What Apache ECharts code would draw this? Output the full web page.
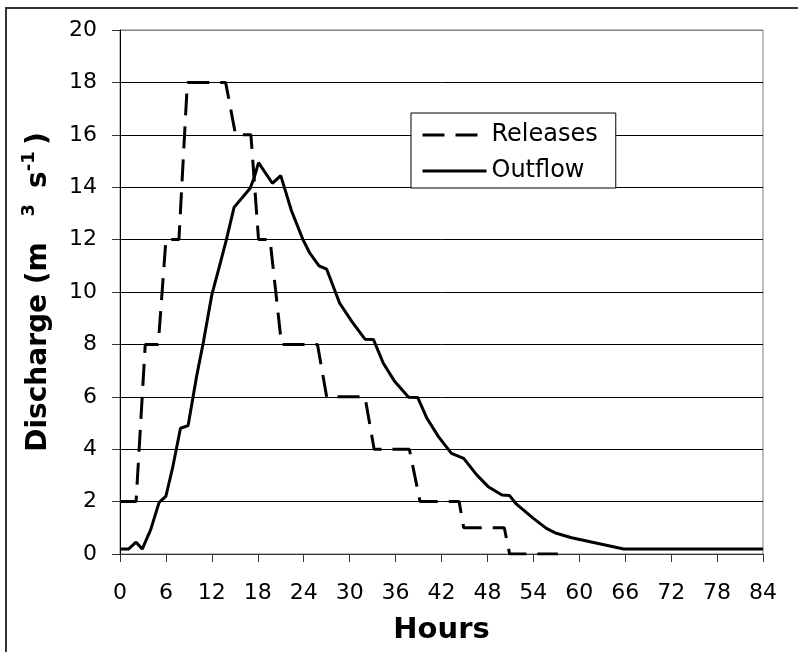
<!DOCTYPE html>
<html>
<head>
<meta charset="utf-8">
<script src="https://cdn.jsdelivr.net/npm/echarts@6/dist/echarts.min.js"></script>
<style>
  html, body { margin: 0; padding: 0; background: #fff; }
  #chart { width: 798px; height: 652px; }
</style>
</head>
<body>
<div id="chart"></div>
<script>
// hours / discharge pairs
const releases = [
  [0, 2], [2.1, 2], [3.3, 8], [5.0, 8], [6.0, 12], [7.7, 12], [8.8, 18],
  [13.8, 18], [15.1, 16], [17.1, 16], [18.1, 12], [19.6, 12], [21.1, 8],
  [25.8, 8], [27.0, 6], [32.0, 6], [33.2, 4], [37.8, 4], [39.2, 2],
  [44.3, 2], [44.9, 1], [50.2, 1], [50.9, 0], [57.2, 0]
]
const outflow = [
  [0, 0.19], [1.1, 0.19], [2.1, 0.45], [2.9, 0.19], [4.0, 0.92], [5.1, 1.96],
  [6.0, 2.21], [6.9, 3.33], [7.9, 4.8], [8.9, 4.9], [10.0, 6.77], [10.9, 8.1],
  [12.0, 9.9], [13.1, 11.1], [13.9, 12.0], [14.9, 13.23], [17.0, 13.96],
  [17.5, 14.34], [18.1, 14.94], [19.9, 14.15], [21.0, 14.44], [22.4, 13.1],
  [23.9, 12.0], [24.8, 11.48], [26.0, 11.0], [27.0, 10.87], [28.7, 9.57],
  [30.3, 8.87], [32.0, 8.2], [33.1, 8.19], [34.4, 7.28], [35.9, 6.58],
  [37.7, 5.98], [38.9, 5.97], [40.1, 5.18], [41.6, 4.48], [43.3, 3.84],
  [44.9, 3.65], [46.6, 3.02], [48.1, 2.57], [49.9, 2.25], [50.9, 2.23],
  [51.8, 1.9], [54.0, 1.36], [55.7, 0.98], [57.0, 0.79], [59.0, 0.62],
  [65.8, 0.19], [84, 0.19]
]
const seriesNames = ['Releases', 'Outflow']

const font = 'DejaVu Sans'
// last split line (at 20) is the grey plot border
const gridColors = ['#000', '#000', '#000', '#000', '#000', '#000', '#000', '#000', '#000', '#000', '#808080']

const myChart = echarts.init(document.getElementById('chart'))

myChart.setOption({
  backgroundColor: '#fff',
  animation: false,
  graphic: [
    {
      type: 'rect',
      shape: { x: 6, y: 8, width: 800, height: 660 },
      style: { fill: 'none', stroke: '#333', lineWidth: 2 }
    }
  ],
  grid: {
    left: 120,
    right: 35,
    top: 30,
    bottom: 98,
    show: true,
    borderColor: '#808080',
    borderWidth: 1
  },
  legend: {
    orient: 'vertical',
    left: 411,
    top: 113,
    padding: [10, 18, 5, 10],
    itemGap: 12,
    itemWidth: 64,
    itemHeight: 14,
    backgroundColor: '#fff',
    borderColor: '#000',
    borderWidth: 1,
    data: seriesNames,
    itemStyle: { color: 'rgba(0,0,0,0)', borderWidth: 0, opacity: 0 },
    lineStyle: { width: 3 },
    textStyle: { fontFamily: font, fontSize: 24, color: '#000' }
  },
  xAxis: {
    type: 'value',
    min: 0,
    max: 84,
    interval: 6,
    name: 'Hours',
    nameLocation: 'middle',
    nameGap: 62,
    nameTextStyle: { fontFamily: font, fontSize: 29, fontWeight: 'bold', color: '#000' },
    axisLine: { lineStyle: { color: '#333', width: 1 } },
    axisTick: { show: true, inside: false, length: 8, lineStyle: { color: '#333' } },
    axisLabel: { fontFamily: font, fontSize: 22, color: '#000', margin: 28 },
    splitLine: { show: false }
  },
  yAxis: {
    type: 'value',
    min: 0,
    max: 20,
    interval: 2,
    name: '{b|Discharge (m  }{s| 3 }{b| s}{s|-1 }{b|)}',
    nameLocation: 'middle',
    nameRotate: 90,
    nameGap: 60,
    nameTextStyle: {
      fontFamily: font,
      color: '#000',
      rich: {
        b: { fontFamily: font, fontSize: 28, fontWeight: 'bold', lineHeight: 40, color: '#000' },
        s: { fontFamily: font, fontSize: 18, fontWeight: 'bold', lineHeight: 20, padding: [0, 0, 20, 0], color: '#000' }
      }
    },
    axisLine: { show: true, lineStyle: { color: '#000', width: 1 } },
    axisTick: { show: true, inside: false, length: 8, lineStyle: { color: '#333' } },
    axisLabel: { fontFamily: font, fontSize: 22, color: '#000', margin: 23 },
    splitLine: { show: true, lineStyle: { color: gridColors, width: 1 } }
  },
  series: [
    {
      name: seriesNames[0],
      type: 'line',
      data: releases,
      symbol: 'none',
      lineStyle: { color: '#000', width: 3, type: [22, 11] },
      itemStyle: { color: '#000' }
    },
    {
      name: seriesNames[1],
      type: 'line',
      data: outflow,
      symbol: 'none',
      lineStyle: { color: '#000', width: 3, type: 'solid' },
      itemStyle: { color: '#000' }
    }
  ]
})
</script>
</body>
</html>
